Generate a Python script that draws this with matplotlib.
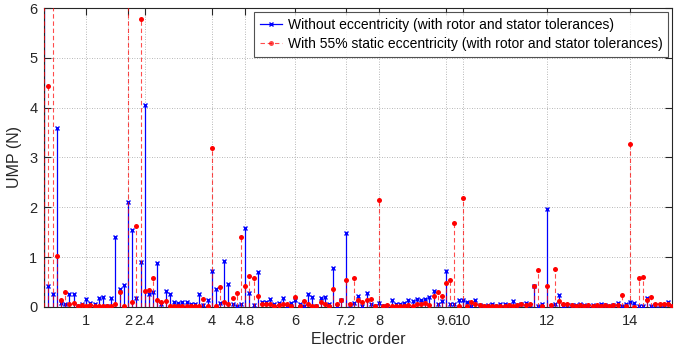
import numpy as np
import matplotlib
matplotlib.use("Agg")
import matplotlib.pyplot as plt
from matplotlib.lines import Line2D

plt.rcParams['font.family'] = ['Liberation Sans', 'DejaVu Sans']

# electric order of each harmonic (0 to 15 in steps of 0.1)
orders = np.round(np.arange(151) * 0.1, 1)

# UMP without eccentricity (rotor and stator tolerances), N
ump_no_ecc = [
    7.00, 0.42, 0.26, 3.60, 0.09, 0.06, 0.27, 0.27, 0.02, 0.07,
    0.16, 0.09, 0.06, 0.19, 0.20, 0.02, 0.19, 1.40, 0.36, 0.44,
    2.10, 1.55, 0.19, 0.91, 4.05, 0.26, 0.30, 0.88, 0.06, 0.33,
    0.26, 0.11, 0.09, 0.11, 0.11, 0.05, 0.07, 0.26, 0.03, 0.14,
    0.73, 0.37, 0.08, 0.92, 0.46, 0.07, 0.02, 0.07, 1.58, 0.29,
    0.03, 0.70, 0.11, 0.11, 0.17, 0.05, 0.08, 0.19, 0.02, 0.08,
    0.14, 0.06, 0.02, 0.27, 0.20, 0.02, 0.19, 0.20, 0.06, 0.78,
    0.02, 0.15, 1.48, 0.03, 0.08, 0.22, 0.02, 0.29, 0.06, 0.02,
    0.09, 0.02, 0.02, 0.14, 0.05, 0.06, 0.08, 0.14, 0.12, 0.16,
    0.14, 0.17, 0.20, 0.33, 0.07, 0.12, 0.72, 0.07, 0.05, 0.14,
    0.14, 0.11, 0.02, 0.14, 0.03, 0.02, 0.03, 0.07, 0.02, 0.06,
    0.06, 0.03, 0.13, 0.03, 0.05, 0.08, 0.03, 0.43, 0.01, 0.07,
    1.96, 0.02, 0.07, 0.25, 0.02, 0.04, 0.03, 0.03, 0.05, 0.03,
    0.02, 0.03, 0.02, 0.05, 0.03, 0.02, 0.03, 0.09, 0.02, 0.05,
    0.11, 0.08, 0.02, 0.02, 0.19, 0.02, 0.03, 0.03, 0.04, 0.11,
    0.02,
]

# UMP with 55% static eccentricity (rotor and stator tolerances), N
ump_ecc55 = [
    7.00, 4.43, 7.00, 1.02, 0.14, 0.31, 0.06, 0.09, 0.02, 0.03,
    0.01, 0.03, 0.02, 0.01, 0.01, 0.02, 0.01, 0.07, 0.30, 0.02,
    7.00, 0.11, 1.62, 5.78, 0.33, 0.34, 0.58, 0.14, 0.11, 0.12,
    0.02, 0.02, 0.02, 0.02, 0.02, 0.02, 0.02, 0.02, 0.16, 0.02,
    3.19, 0.01, 0.41, 0.10, 0.06, 0.19, 0.29, 1.40, 0.42, 0.63,
    0.58, 0.22, 0.07, 0.07, 0.07, 0.01, 0.04, 0.05, 0.06, 0.01,
    0.20, 0.01, 0.12, 0.06, 0.02, 0.02, 0.11, 0.06, 0.01, 0.37,
    0.06, 0.14, 0.55, 0.06, 0.59, 0.14, 0.11, 0.14, 0.17, 0.01,
    2.15, 0.02, 0.04, 0.02, 0.01, 0.01, 0.02, 0.04, 0.01, 0.06,
    0.07, 0.08, 0.04, 0.23, 0.31, 0.23, 0.48, 0.54, 1.69, 0.02,
    2.18, 0.01, 0.11, 0.06, 0.04, 0.01, 0.02, 0.02, 0.02, 0.02,
    0.02, 0.03, 0.02, 0.04, 0.05, 0.04, 0.06, 0.43, 0.74, 0.01,
    0.42, 0.03, 0.76, 0.13, 0.07, 0.05, 0.03, 0.02, 0.03, 0.02,
    0.03, 0.02, 0.03, 0.02, 0.03, 0.02, 0.04, 0.03, 0.24, 0.02,
    3.27, 0.00, 0.58, 0.60, 0.14, 0.21, 0.07, 0.06, 0.07, 0.05,
    0.01,
]

xticks = [1, 2, 2.4, 4, 4.8, 6, 7.2, 8, 9.6, 10, 12, 14]
xtick_labels = ['1', '2', '2.4', '4', '4.8', '6', '7.2', '8', '9.6', '10', '12', '14']
yticks = [0, 1, 2, 3, 4, 5, 6]

label_no_ecc = 'Without eccentricity (with rotor and stator tolerances)'
label_ecc = 'With 55% static eccentricity (with rotor and stator tolerances)'

fig = plt.figure(figsize=(6.91, 3.54), dpi=100)
ax = fig.add_axes([0.0641, 0.1328, 0.9085, 0.8446])

ax.set_axisbelow(True)
ax.grid(True, color='#a0a0a0', linestyle=(0, (1, 2)), linewidth=0.6)

blue = '#0000ff'
red = '#ff0000'

# stems without eccentricity
ax.vlines(orders, 0, ump_no_ecc, colors=blue, linewidth=0.9, zorder=2)
ax.plot(orders, ump_no_ecc, linestyle='none', marker='x', color=blue,
        markersize=3.5, markeredgewidth=1.0, zorder=3)

# stems with 55% static eccentricity
ax.vlines(orders, 0, ump_ecc55, colors=red, linewidth=0.8,
          linestyles=(0, (4, 2.5)), alpha=0.7, zorder=4)
ax.plot(orders, ump_ecc55, linestyle='none', marker='o', color=red,
        markersize=3.6, markeredgewidth=0, zorder=5)

ax.set_xlim(0, 15)
ax.set_ylim(0, 6)
ax.set_xticks(xticks)
ax.set_xticklabels(xtick_labels)
ax.set_yticks(yticks)

ax.tick_params(axis='both', which='both', direction='in', length=5, width=0.8,
               top=True, right=True, labelsize=10.5, colors='#262626', pad=5)
for sp in ax.spines.values():
    sp.set_color('#262626')
    sp.set_linewidth(0.8)

ax.set_xlabel('Electric order', fontsize=11.5, color='#262626', labelpad=3)
ax.set_ylabel('UMP (N)', fontsize=11.5, color='#262626', labelpad=5)

handles = [
    Line2D([], [], color=blue, linestyle='-', marker='x', markersize=3.5,
           markeredgewidth=1.0, linewidth=0.9),
    Line2D([], [], color=red, linestyle=(0, (4, 2.5)), marker='o', markersize=3.6,
           markeredgewidth=0, linewidth=0.8, alpha=0.7),
]
leg = ax.legend(handles, [label_no_ecc, label_ecc], loc='upper right',
                fontsize=10, frameon=True, fancybox=False, handlelength=1.6,
                handletextpad=0.4, borderpad=0.4, labelspacing=0.4,
                borderaxespad=0.3)
leg.get_frame().set_edgecolor('#262626')
leg.get_frame().set_linewidth(0.8)

fig.savefig('out.png', dpi=100)
